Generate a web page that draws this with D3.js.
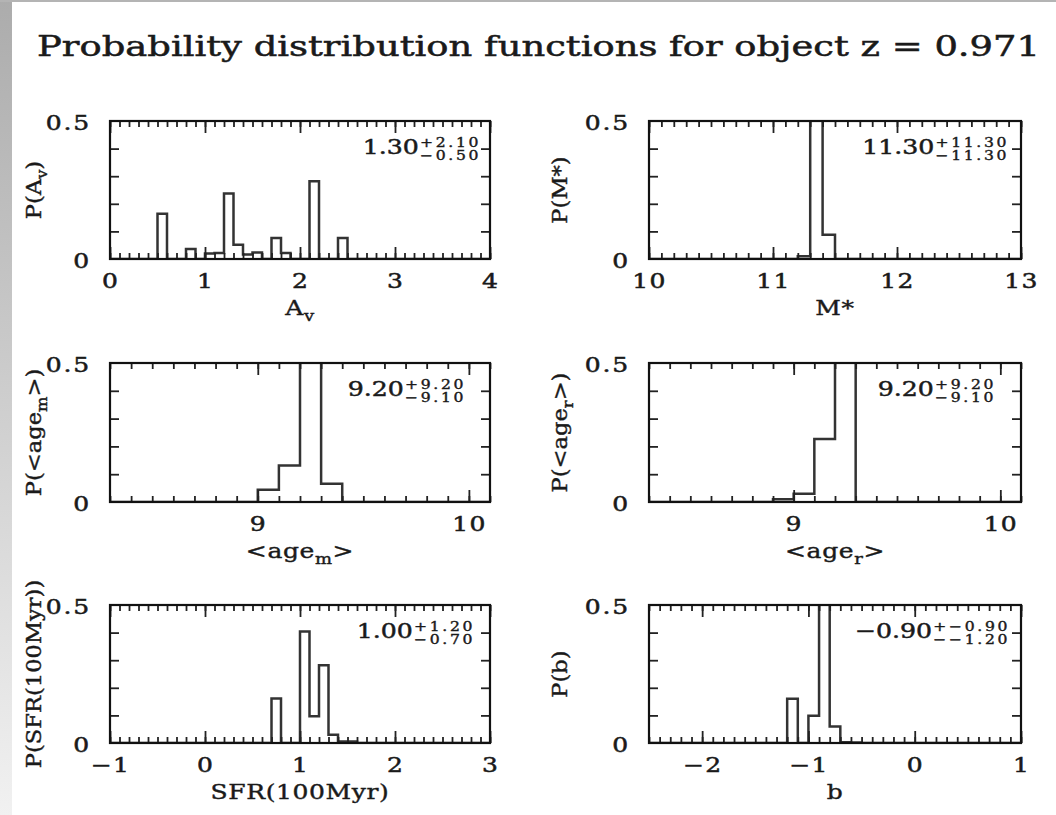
<!DOCTYPE html>
<html>
<head>
<meta charset="utf-8">
<script src="https://cdn.jsdelivr.net/npm/d3@7"></script>
<style>
  html, body { margin: 0; padding: 0; background: #fff; }
  svg { display: block; }
</style>
</head>
<body>
<svg id="chart" width="1056" height="815"></svg>
<script>
// ---------------- DATA ----------------
const titleText = "Probability distribution functions for object z = 0.971";
const binWidth = 0.1;

const avDomain = [0, 4];
const avTicks = [0, 1, 2, 3, 4];
const avEdges = [0.5, 0.6, 0.7, 0.8, 0.9, 1.0, 1.1, 1.2, 1.3, 1.4, 1.5, 1.6, 1.7, 1.8, 1.9, 2.0, 2.1, 2.2, 2.3, 2.4];
const avProb  = [0.164, 0, 0, 0.036, 0, 0.020, 0.022, 0.237, 0.052, 0.016, 0.024, 0, 0.076, 0.022, 0, 0, 0.282, 0, 0, 0.076];

const mDomain = [10, 13];
const mTicks = [10, 11, 12, 13];
const mEdges = [11.2, 11.3, 11.4];
const mProb  = [0.010, 0.902, 0.088];

const ageDomain = [8.3, 10.1];
const ageTicks = [9, 10];
const ageMEdges = [9.0, 9.1, 9.2, 9.3];
const ageMProb  = [0.044, 0.131, 0.759, 0.066];
const ageREdges = [8.9, 9.0, 9.1, 9.2];
const ageRProb  = [0.010, 0.030, 0.227, 0.733];

const sfrDomain = [-1, 3];
const sfrTicks = [-1, 0, 1, 2, 3];
const sfrEdges = [0.7, 0.8, 0.9, 1.0, 1.1, 1.2, 1.3, 1.4, 1.5];
const sfrProb  = [0.161, 0, 0, 0.404, 0.097, 0.282, 0.030, 0.005, 0.005];

const bDomain = [-2.5, 1];
const bTicks = [-2, -1, 0, 1];
const bEdges = [-1.2, -1.1, -1.0, -0.9, -0.8, -0.7, -0.6];
const bProb  = [0.160, 0, 0.099, 0.676, 0.060, 0.003, 0.002];

const yDomain = [0, 0.5];
const yLabelTicks = [0, 0.5];
const yLabels = ["0", "0.5"];
const yMinorTicks = [0.1, 0.2, 0.3, 0.4];

const bestValues = ["1.30", "11.30", "9.20", "9.20", "1.00", "\u22120.90"];
const upperErr   = ["+2.10", "+11.30", "+9.20", "+9.20", "+1.20", "+\u22120.90"];
const lowerErr   = ["\u22120.50", "\u221211.30", "\u22129.10", "\u22129.10", "\u22120.70", "\u2212\u22121.20"];

// axis titles: [main, subscript, tail]
const xTitles = [["A", "v", ""], ["M*", "", ""], ["<age", "m", ">"], ["<age", "r", ">"], ["SFR(100Myr)", "", ""], ["b", "", ""]];
const yTitles = [["P(A", "v", ")"], ["P(M*)", "", ""], ["P(<age", "m", ">)"], ["P(<age", "r", ">)"], ["P(SFR(100Myr))", "", ""], ["P(b)", "", ""]];

// ---------------- LAYOUT ----------------
const cols = [{x0: 110, x1: 490, yt: 34}, {x0: 649, x1: 1021, yt: 560}];
const rows = [{y0: 121, y1: 259}, {y0: 363, y1: 502}, {y0: 605, y1: 743}];
const panels = [
  {c: 0, r: 0, dom: avDomain, ticks: avTicks, edges: avEdges, prob: avProb, ann: 9},
  {c: 1, r: 0, dom: mDomain, ticks: mTicks, edges: mEdges, prob: mProb, ann: 12},
  {c: 0, r: 1, dom: ageDomain, ticks: ageTicks, edges: ageMEdges, prob: ageMProb, ann: 24},
  {c: 1, r: 1, dom: ageDomain, ticks: ageTicks, edges: ageREdges, prob: ageRProb, ann: 25},
  {c: 0, r: 2, dom: sfrDomain, ticks: sfrTicks, edges: sfrEdges, prob: sfrProb, ann: 15},
  {c: 1, r: 2, dom: bDomain, ticks: bTicks, edges: bEdges, prob: bProb, ann: 11}
];

const FONT = "'DejaVu Serif', serif";
const SX = 1.25;          // horizontal glyph stretch (Hershey-like wide glyphs)
const INK = "#1a1a1a";

const svg = d3.select("#chart");
const defs = svg.append("defs");

function heavy(sel, w) {
  return sel.attr("fill", INK).attr("stroke", INK).attr("stroke-width", w).attr("paint-order", "stroke");
}

// background decorations
const grad = defs.append("linearGradient").attr("id", "strip").attr("x1", 0).attr("y1", 0).attr("x2", 0).attr("y2", 1);
grad.append("stop").attr("offset", "0%").attr("stop-color", "#acacac");
grad.append("stop").attr("offset", "100%").attr("stop-color", "#f1f1f1");
svg.append("rect").attr("x", 0).attr("y", 0).attr("width", 1056).attr("height", 815).attr("fill", "#fff");
svg.append("rect").attr("x", 0).attr("y", 0).attr("width", 12).attr("height", 815).attr("fill", "url(#strip)");
svg.append("rect").attr("x", 0).attr("y", 0).attr("width", 1056).attr("height", 2).attr("fill", "#b4b4b4");

// title
heavy(svg.append("text")
  .attr("x", 37).attr("y", 56)
  .attr("font-family", FONT).attr("font-size", 27)
  .attr("textLength", 1003).attr("lengthAdjust", "spacingAndGlyphs")
  .text(titleText), 0.5);

function fmt(d) { return d < 0 ? "\u2212" + Math.abs(d) : String(d); }

function titleText3(sel, parts, size) {
  sel.append("tspan").text(parts[0]);
  if (parts[1]) sel.append("tspan").attr("font-size", size * 0.72).attr("dy", size * 0.3).text(parts[1]);
  if (parts[2]) sel.append("tspan").attr("dy", parts[1] ? -size * 0.3 : 0).text(parts[2]);
}

panels.forEach((p, i) => {
  const col = cols[p.c], row = rows[p.r];
  const x = d3.scaleLinear().domain(p.dom).range([col.x0, col.x1]);
  const y = d3.scaleLinear().domain(yDomain).range([row.y1, row.y0]);
  const g = svg.append("g");

  const minor = d3.range(Math.round(p.dom[0] * 10), Math.round(p.dom[1] * 10) + 1).map(k => k / 10);

  const styleAxis = a => {
    a.select(".domain").remove();
    a.attr("color", "#222");
    a.selectAll("line").attr("stroke-width", 1.8);
  };

  // histogram (clipped at the frame)
  const cid = "clip" + i;
  defs.append("clipPath").attr("id", cid).append("rect")
    .attr("x", col.x0).attr("y", row.y0).attr("width", col.x1 - col.x0).attr("height", row.y1 - row.y0);
  const pts = [{x: p.dom[0], y: 0}];
  p.edges.forEach((e, k) => pts.push({x: e, y: p.prob[k]}));
  pts.push({x: p.edges[p.edges.length - 1] + binWidth, y: 0});
  pts.push({x: p.dom[1], y: 0});
  const line = d3.line().x(d => x(d.x)).y(d => y(d.y)).curve(d3.curveStepAfter);
  g.append("path").attr("d", line(pts))
    .attr("fill", "none").attr("stroke", "#333").attr("stroke-width", 2.5)
    .attr("clip-path", `url(#${cid})`);

  // bottom axis ticks
  g.append("g").attr("transform", `translate(0,${row.y1})`)
    .call(d3.axisBottom(x).tickValues(minor).tickSize(-6).tickSizeOuter(0).tickFormat(""))
    .call(styleAxis);
  const bx = g.append("g").attr("transform", `translate(0,${row.y1})`)
    .call(d3.axisBottom(x).tickValues(p.ticks).tickSize(-12).tickSizeOuter(0).tickPadding(15).tickFormat(fmt))
    .call(styleAxis);
  heavy(bx.selectAll("text")
    .attr("font-family", FONT).attr("font-size", 20)
    .attr("letter-spacing", 1).attr("transform", `scale(${SX},1)`), 0.5);

  // top axis ticks
  g.append("g").attr("transform", `translate(0,${row.y0})`)
    .call(d3.axisTop(x).tickValues(minor).tickSize(-6).tickSizeOuter(0).tickFormat(""))
    .call(styleAxis);
  g.append("g").attr("transform", `translate(0,${row.y0})`)
    .call(d3.axisTop(x).tickValues(p.ticks).tickSize(-12).tickSizeOuter(0).tickFormat(""))
    .call(styleAxis);

  // left / right ticks
  g.append("g").attr("transform", `translate(${col.x0},0)`)
    .call(d3.axisLeft(y).tickValues(yMinorTicks).tickSize(-9).tickSizeOuter(0).tickFormat(""))
    .call(styleAxis);
  g.append("g").attr("transform", `translate(${col.x1},0)`)
    .call(d3.axisRight(y).tickValues(yMinorTicks).tickSize(-9).tickSizeOuter(0).tickFormat(""))
    .call(styleAxis);
  const ly = g.append("g").attr("transform", `translate(${col.x0},0)`)
    .call(d3.axisLeft(y).tickValues(yLabelTicks).tickSize(0).tickSizeOuter(0).tickPadding(0)
      .tickFormat((d, k) => yLabels[k]))
    .call(styleAxis);
  heavy(ly.selectAll("text")
    .attr("font-family", FONT).attr("font-size", 20)
    .attr("letter-spacing", 1.5)
    .attr("x", -19 / SX).attr("dy", "0.4em")
    .attr("transform", `scale(${SX},1)`), 0.5);

  // frame
  g.append("rect")
    .attr("x", col.x0).attr("y", row.y0)
    .attr("width", col.x1 - col.x0).attr("height", row.y1 - row.y0)
    .attr("fill", "none").attr("stroke", "#111").attr("stroke-width", 2.2);

  // x title
  const xt = heavy(g.append("g").attr("transform", `translate(${(col.x0 + col.x1) / 2},${row.y1 + 56}) scale(${SX},1)`)
    .append("text").attr("text-anchor", "middle")
    .attr("font-family", FONT).attr("font-size", 20).attr("letter-spacing", 0.5), 0.4);
  titleText3(xt, xTitles[i], 20);

  // y title
  const yt = heavy(g.append("g").attr("transform", `translate(${col.yt},${(row.y0 + row.y1) / 2}) rotate(-90) scale(1.13,1)`)
    .append("text").attr("text-anchor", "middle").attr("dy", "0.36em")
    .attr("font-family", FONT).attr("font-size", 20), 0.4);
  titleText3(yt, yTitles[i], 20);

  // annotation: best value with upper/lower errors
  const ag = g.append("g").attr("transform", `translate(${col.x1 - p.ann},${row.y0 + 33}) scale(1.2,1)`);
  const sup = heavy(ag.append("text").attr("font-family", FONT).attr("font-size", 13)
    .attr("letter-spacing", 2.2).attr("y", -7).text(upperErr[i]), 0.4);
  const sub = heavy(ag.append("text").attr("font-family", FONT).attr("font-size", 13)
    .attr("letter-spacing", 2.2).attr("y", 6).text(lowerErr[i]), 0.4);
  const w = Math.max(sup.node().getComputedTextLength(), sub.node().getComputedTextLength());
  sup.attr("x", -w); sub.attr("x", -w);
  heavy(ag.append("text").attr("font-family", FONT).attr("font-size", 21)
    .attr("text-anchor", "end").attr("x", -w - 1).attr("y", 0).text(bestValues[i]), 0.5);
});
</script>
</body>
</html>
